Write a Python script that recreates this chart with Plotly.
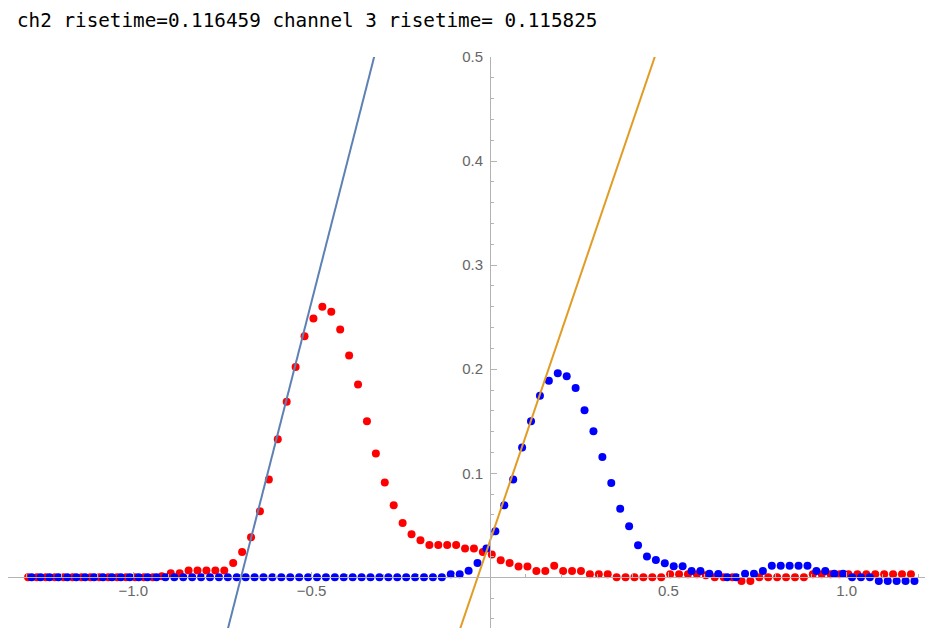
import numpy as np
import plotly.graph_objects as go

# ---- data ----
dt = 0.025
red_t0 = -1.295
blue_t0 = -1.285

ch2_values = [0.0] * 15 + [0.001, 0.004, 0.004] + [0.0065] * 5 + [
    0.0138, 0.0244, 0.0385, 0.0635, 0.094, 0.1327, 0.1686, 0.2022, 0.2317, 0.2487,
    0.260, 0.2551, 0.2381, 0.2131, 0.1853, 0.150, 0.1189, 0.091, 0.0692, 0.0522,
    0.0413, 0.0356, 0.031, 0.031, 0.031, 0.031, 0.0276, 0.0276, 0.0244, 0.022,
    0.0163, 0.0138, 0.0105, 0.0105, 0.006, 0.006, 0.011, 0.006, 0.006, 0.006,
    0.003, 0.003, 0.003] + [0.0] * 6 + [0.003] * 4 + [0.002] + [0.0] * 3 + \
    [-0.0035, -0.0035] + [0.0] * 6 + [0.003] * 12

ch3_values = [0.0] * 47 + [
    0.003, 0.003, 0.0062, 0.0138, 0.0277, 0.0443, 0.0692, 0.0939, 0.1247, 0.150,
    0.1744, 0.1888, 0.1962, 0.1933, 0.182, 0.1606, 0.1404, 0.1157, 0.0907, 0.066,
    0.049, 0.0308, 0.020, 0.0167, 0.0135, 0.0106, 0.0106, 0.006, 0.006, 0.0035,
    0.0032, 0.0, 0.0, 0.0035, 0.0035, 0.006, 0.011, 0.011, 0.011, 0.011,
    0.011, 0.006, 0.006, 0.0035, 0.0035] + [0.0] * 3 + [-0.0035] * 5

ch2_time = [red_t0 + dt * i for i in range(len(ch2_values))]
ch3_time = [blue_t0 + dt * i for i in range(len(ch3_values))]

# fitted rising-edge lines: y = slope * (x - x0)
ch2_slope, ch2_x0 = 1.34, -0.698
ch3_slope, ch3_x0 = 1.007, -0.0347

title_text = "ch2 risetime=0.116459 channel 3 risetime= 0.115825"
x_major = [-1.0, -0.5, 0.5, 1.0]
x_labels = ["\u22121.0", "\u22120.5", "0.5", "1.0"]
y_major = [0.1, 0.2, 0.3, 0.4, 0.5]
y_labels = ["0.1", "0.2", "0.3", "0.4", "0.5"]

x_range = [-1.3513, 1.2195]
y_range = [-0.0487, 0.5]

x_minor = [round(v, 2) for v in np.arange(-1.3, 1.21, 0.1) if abs(v * 2 - round(v * 2)) > 1e-6]
y_minor = [round(v, 3) for v in np.arange(-0.04, 0.501, 0.02) if abs(v * 10 - round(v * 10)) > 1e-6]


def fit_line(slope, x0):
    ys = [y_range[0] - 0.05, y_range[1] + 0.05]
    xs = [x0 + y / slope for y in ys]
    return xs, ys


fig = go.Figure()
fig.add_trace(go.Scatter(x=ch2_time, y=ch2_values, mode="markers",
                         marker=dict(color="#FF0000", size=8, line=dict(width=0)),
                         showlegend=False))
fig.add_trace(go.Scatter(x=ch3_time, y=ch3_values, mode="markers",
                         marker=dict(color="#0000FF", size=8, line=dict(width=0)),
                         showlegend=False))
lx, ly = fit_line(ch2_slope, ch2_x0)
fig.add_trace(go.Scatter(x=lx, y=ly, mode="lines",
                         line=dict(color="#5E81B5", width=2), showlegend=False))
lx, ly = fit_line(ch3_slope, ch3_x0)
fig.add_trace(go.Scatter(x=lx, y=ly, mode="lines",
                         line=dict(color="#E19C24", width=2), showlegend=False))

axis_color = "#b3b3b3"
tick_font = dict(family="Liberation Sans", size=15, color="#666666")

fig.update_layout(
    width=927, height=628, autosize=False,
    margin=dict(l=8, r=2, t=57, b=0, pad=0),
    paper_bgcolor="white", plot_bgcolor="white",
    title=dict(text=title_text, x=17 / 927, xanchor="left", xref="container",
               y=1 - 20 / 628, yanchor="middle", yref="container",
               font=dict(family="DejaVu Sans Mono", size=19.3, color="black")),
    xaxis=dict(range=x_range, showgrid=False, zeroline=False,
               showline=True, linecolor=axis_color, linewidth=1,
               anchor="free",
               position=(0 - y_range[0]) / (y_range[1] - y_range[0]),
               ticks="inside", ticklen=5, tickcolor=axis_color, tickwidth=1,
               tickmode="array", tickvals=x_major, ticktext=x_labels,
               tickfont=tick_font,
               minor=dict(tickmode="array", tickvals=x_minor, ticks="inside",
                          ticklen=3, tickcolor=axis_color, tickwidth=1)),
    yaxis=dict(range=y_range, showgrid=False, zeroline=False,
               showline=True, linecolor=axis_color, linewidth=1,
               anchor="free",
               position=(0 - x_range[0]) / (x_range[1] - x_range[0]),
               side="left",
               ticks="inside", ticklen=6, tickcolor=axis_color, tickwidth=1,
               tickmode="array", tickvals=y_major, ticktext=y_labels,
               tickfont=tick_font, ticklabelstandoff=4,
               minor=dict(tickmode="array", tickvals=y_minor, ticks="inside",
                          ticklen=3, tickcolor=axis_color, tickwidth=1)),
)

fig.write_html("out.html")
